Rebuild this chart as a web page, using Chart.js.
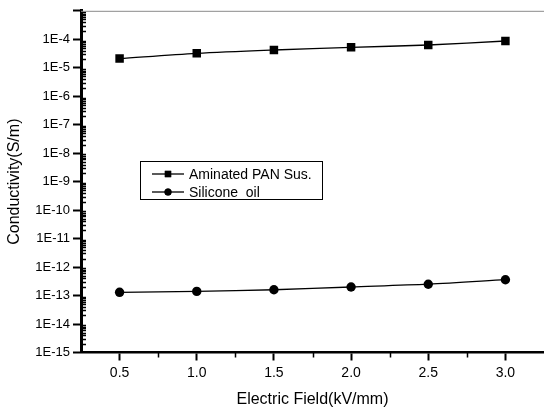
<!DOCTYPE html>
<html>
<head>
<meta charset="utf-8">
<script src="https://cdn.jsdelivr.net/npm/chart.js@4.4.1/dist/chart.umd.min.js"></script>
<style>
  html, body { margin: 0; padding: 0; background: #fff; overflow: hidden; }
  #wrap { width: 550px; height: 412px; }
</style>
</head>
<body>
<div id="wrap"><canvas id="cond" width="550" height="412"></canvas></div>
<script>
// electric field (kV/mm) and measured conductivity (S/m)
const fieldKV = [0.5, 1.0, 1.5, 2.0, 2.5, 3.0];
const panSus = [2.1e-5, 3.2e-5, 4.2e-5, 5.2e-5, 6.3e-5, 8.7e-5];
const siliconeOil = [1.3e-13, 1.4e-13, 1.6e-13, 2.0e-13, 2.5e-13, 3.6e-13];

const xTicks = [0.5, 1.0, 1.5, 2.0, 2.5, 3.0];
const xMinorTicks = [0.75, 1.25, 1.75, 2.25, 2.75];
const yExponents = [-15, -14, -13, -12, -11, -10, -9, -8, -7, -6, -5, -4, -3];

const FONT = 'Arial, "Liberation Sans", sans-serif';
Chart.defaults.font.family = FONT;
Chart.defaults.color = '#000';

const toPoints = ys => fieldKV.map((x, i) => ({ x, y: ys[i] }));

// minor ticks, top frame line and the boxed legend inside the plot
const extras = {
  id: 'extras',
  afterDraw(chart) {
    const { ctx, chartArea: a, scales: { x, y } } = chart;
    ctx.save();
    ctx.strokeStyle = '#000';
    ctx.lineWidth = 1.5;
    ctx.beginPath();
    for (let e = -15; e < -3; e++) {
      for (let m = 2; m <= 9; m++) {
        const py = Math.round(y.getPixelForValue(m * Math.pow(10, e))) + 0.5;
        ctx.moveTo(a.left, py);
        ctx.lineTo(a.left + 5, py);
      }
    }
    xMinorTicks.forEach(v => {
      const px = Math.round(x.getPixelForValue(v)) + 0.5;
      ctx.moveTo(px, a.bottom);
      ctx.lineTo(px, a.bottom + 5);
    });
    ctx.stroke();

    ctx.strokeStyle = '#8a8a8a';
    ctx.lineWidth = 1;
    ctx.beginPath();
    ctx.moveTo(a.left, a.top + 0.5);
    ctx.lineTo(a.right, a.top + 0.5);
    ctx.stroke();

    // legend
    const bx = 140.5, by = 161.5, bw = 182, bh = 38;
    ctx.strokeStyle = '#000';
    ctx.lineWidth = 1;
    ctx.strokeRect(bx, by, bw, bh);
    ctx.font = '14px ' + FONT;
    ctx.fillStyle = '#000';
    ctx.textBaseline = 'middle';
    chart.data.datasets.forEach((ds, i) => {
      const ry = 174 + i * 18;
      ctx.lineWidth = 1.3;
      ctx.beginPath();
      ctx.moveTo(152, ry);
      ctx.lineTo(184, ry);
      ctx.stroke();
      Chart.helpers.drawPoint(ctx, { pointStyle: ds.pointStyle, radius: ds.pointStyle === 'rect' ? 4.5 : 3.5, borderWidth: 0 }, 168, ry);
      ctx.fill();
      ctx.fillText(ds.label, 189, ry + 1);
    });
    ctx.restore();
  }
};

new Chart(document.getElementById('cond'), {
  type: 'line',
  data: {
    datasets: [
      {
        label: 'Aminated PAN Sus.',
        data: toPoints(panSus),
        borderColor: '#000',
        backgroundColor: '#000',
        borderWidth: 1.3,
        pointStyle: 'rect',
        pointRadius: 6,
        pointBorderWidth: 0,
        tension: 0.3
      },
      {
        label: 'Silicone  oil',
        data: toPoints(siliconeOil),
        borderColor: '#000',
        backgroundColor: '#000',
        borderWidth: 1.3,
        pointStyle: 'circle',
        pointRadius: 4.7,
        pointBorderWidth: 0,
        tension: 0.3
      }
    ]
  },
  options: {
    responsive: false,
    animation: false,
    layout: { padding: { top: 4, right: 4.5, left: 0, bottom: 0 } },
    plugins: {
      legend: { display: false },
      tooltip: { enabled: false }
    },
    scales: {
      x: {
        type: 'linear',
        min: 0.25,
        max: 3.25,
        afterBuildTicks: s => { s.ticks = xTicks.map(value => ({ value })); },
        afterFit: s => { s.height = 59.5; },
        border: { display: true, color: '#000', width: 2.5 },
        grid: { drawOnChartArea: false, color: '#000', tickLength: 8, tickWidth: 2 },
        ticks: {
          padding: 4,
          font: { size: 14 },
          callback: v => v.toFixed(1)
        },
        title: {
          display: true,
          text: 'Electric Field(kV/mm)',
          font: { size: 16 },
          padding: { top: 0, bottom: 3 }
        }
      },
      y: {
        type: 'logarithmic',
        min: 1e-15,
        max: 1e-3,
        afterBuildTicks: s => { s.ticks = yExponents.map(e => ({ value: Math.pow(10, e) })); },
        afterFit: s => { s.width = 81; },
        border: { display: true, color: '#000', width: 3 },
        grid: { drawOnChartArea: false, color: '#000', tickLength: 8, tickWidth: 2 },
        ticks: {
          padding: 3,
          font: { size: 13 },
          callback: v => {
            const e = Math.round(Math.log10(v));
            return e === -3 ? '' : '1E' + e;
          }
        },
        title: {
          display: true,
          text: 'Conductivity(S/m)',
          font: { size: 16 },
          padding: { top: 5, bottom: 0 }
        }
      }
    }
  },
  plugins: [extras]
});
</script>
</body>
</html>
